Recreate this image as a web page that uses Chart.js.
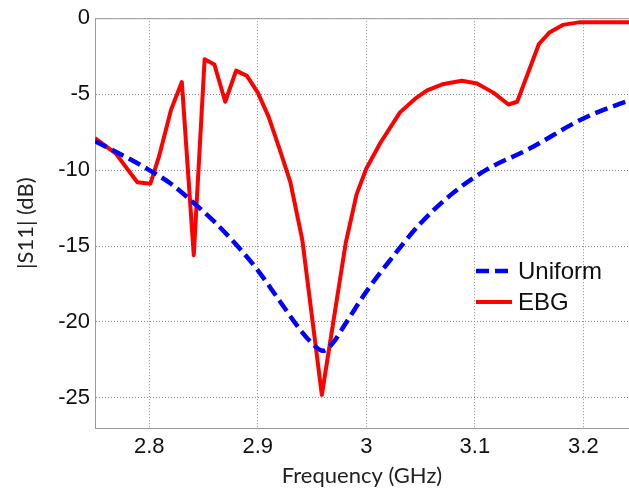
<!DOCTYPE html>
<html>
<head>
<meta charset="utf-8">
<script src="https://cdn.jsdelivr.net/npm/chart.js@4/dist/chart.umd.min.js"></script>
<style>
	html, body { margin: 0; padding: 0; background: #fff; overflow: hidden; }
	#wrap { width: 629px; height: 495px; }
</style>
</head>
<body>
<div id="wrap"><canvas id="s11"></canvas></div>
<script>
	'use strict';

	// values
	const uniformFreq = [2.75, 2.78, 2.80, 2.82, 2.84, 2.86, 2.88, 2.90, 2.92, 2.94, 2.95, 2.96, 2.97, 2.98, 3.00, 3.02, 3.05, 3.08, 3.11, 3.15, 3.20, 3.25];
	const uniformS11 = [-8.1, -9.2, -10.0, -10.9, -12.1, -13.4, -14.9, -16.6, -18.6, -20.6, -21.4, -21.9, -21.3, -20.2, -18.0, -16.1, -13.5, -11.5, -10.0, -8.6, -6.6, -5.2];

	const ebgFreq = [2.75, 2.769, 2.789, 2.801, 2.809, 2.820, 2.830, 2.841, 2.851, 2.860, 2.870, 2.880, 2.890, 2.900, 2.910, 2.920, 2.930, 2.941, 2.959, 2.981, 2.991, 3.000, 3.013, 3.031, 3.045, 3.056, 3.070, 3.088, 3.102, 3.117, 3.131, 3.139, 3.159, 3.169, 3.181, 3.197, 3.25];
	const ebgS11 = [-7.9, -8.9, -10.8, -10.9, -9.1, -6.05, -4.2, -15.6, -2.7, -3.05, -5.5, -3.45, -3.8, -4.9, -6.5, -8.6, -10.8, -14.6, -24.8, -14.8, -11.6, -9.9, -8.2, -6.2, -5.3, -4.75, -4.35, -4.12, -4.3, -4.9, -5.68, -5.5, -1.7, -0.92, -0.44, -0.26, -0.26];

	const freqTicks = [2.8, 2.9, 3.0, 3.1, 3.2];
	const s11Ticks = [-25, -20, -15, -10, -5, 0];

	const tickFont = { family: '"Liberation Sans", Arial, sans-serif', size: 22 };
	const titleFont = { family: 'Lato, "Open Sans", sans-serif', size: 22 };
	const gridColor = '#8a8a8a';
	const axisColor = '#9a9a9a';

	function toPoints(xs, ys) {
		return xs.map(function (x, i) {
			return { x: x, y: ys[i] };
		});
	}

	// legend drawn inside the plot, like the original
	const insideLegend = {
		id: 'insideLegend',
		afterDatasetsDraw: function (chart) {
			const ctx = chart.ctx;
			const rows = [{ y: 271, len: 32 }, { y: 302, len: 36 }];

			ctx.save();
			ctx.font = '24px "Liberation Sans", Arial, sans-serif';
			ctx.textBaseline = 'middle';
			ctx.fillStyle = '#111';

			chart.data.datasets.forEach(function (ds, i) {
				const row = rows[i];
				ctx.beginPath();
				ctx.lineWidth = ds.borderWidth;
				ctx.strokeStyle = ds.borderColor;
				ctx.setLineDash(ds.borderDash || []);
				ctx.moveTo(476, row.y);
				ctx.lineTo(476 + row.len, row.y);
				ctx.stroke();
				ctx.setLineDash([]);
				ctx.fillText(ds.label, 518, row.y + 1);
			});

			ctx.restore();
		}
	};

	// top frame line of the box
	const topFrame = {
		id: 'topFrame',
		beforeDatasetsDraw: function (chart) {
			const area = chart.chartArea;
			const ctx = chart.ctx;
			ctx.save();
			ctx.strokeStyle = axisColor;
			ctx.lineWidth = 1;
			ctx.beginPath();
			ctx.moveTo(area.left, area.top + 0.5);
			ctx.lineTo(area.right, area.top + 0.5);
			ctx.stroke();
			ctx.restore();
		}
	};

	new Chart(document.getElementById('s11'), {
		type: 'line',
		data: {
			datasets: [{
				label: 'Uniform',
				data: toPoints(uniformFreq, uniformS11),
				borderColor: '#0000ff',
				borderWidth: 4.5,
				borderDash: [13, 6],
				cubicInterpolationMode: 'monotone',
				pointRadius: 0,
				fill: false
			}, {
				label: 'EBG',
				data: toPoints(ebgFreq, ebgS11),
				borderColor: '#ff0000',
				borderWidth: 4,
				tension: 0,
				borderJoinStyle: 'round',
				pointRadius: 0,
				fill: false
			}]
		},
		options: {
			responsive: true,
			maintainAspectRatio: false,
			animation: false,
			events: [],
			layout: { padding: { top: 16, right: 0, bottom: 0, left: 0 } },
			plugins: {
				legend: { display: false },
				tooltip: { enabled: false }
			},
			scales: {
				x: {
					type: 'linear',
					min: 2.75,
					max: 3.242,
					afterBuildTicks: function (scale) {
						scale.ticks = freqTicks.map(function (v) { return { value: v }; });
					},
					afterFit: function (scale) {
						scale.height = 66.7;
					},
					grid: {
						color: gridColor,
						lineWidth: 1,
						drawTicks: false
					},
					border: { display: true, color: axisColor, width: 1, dash: [1, 2] },
					ticks: {
						font: tickFont,
						color: '#111',
						padding: 5,
						maxRotation: 0,
						callback: function (v) { return String(Math.round(v * 10) / 10); }
					},
					title: {
						display: true,
						text: 'Frequency (GHz)',
						font: titleFont,
						color: '#222',
						padding: { top: 0, bottom: 6 }
					}
				},
				y: {
					min: -27,
					max: 0,
					afterBuildTicks: function (scale) {
						scale.ticks = s11Ticks.map(function (v) { return { value: v }; });
					},
					afterFit: function (scale) {
						scale.width = 95;
					},
					grid: {
						color: gridColor,
						lineWidth: 1,
						drawTicks: false
					},
					border: { display: true, color: axisColor, width: 1, dash: [1, 2] },
					ticks: {
						font: tickFont,
						color: '#111',
						padding: 5
					},
					title: {
						display: true,
						text: '|S11| (dB)',
						font: titleFont,
						color: '#222',
						padding: { top: 13, bottom: 0 }
					}
				}
			}
		},
		plugins: [topFrame, insideLegend]
	});
</script>
</body>
</html>
